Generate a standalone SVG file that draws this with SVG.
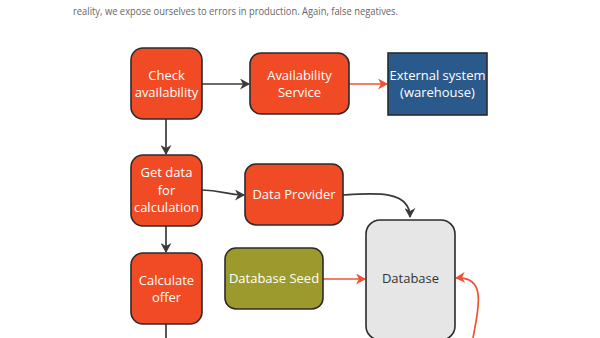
<svg xmlns="http://www.w3.org/2000/svg" width="600" height="338" viewBox="0 0 600 338">
<style>
.n{stroke:#2b2b2b;stroke-width:1.6}
.o{fill:#f04b24}
.t{font-family:"Open Sans","Noto Sans",sans-serif;font-size:13px;text-anchor:middle;fill:#fff}
.c{fill:none;stroke:#3a3a3a;stroke-width:1.7}
.r{fill:none;stroke:#ef5232;stroke-width:1.7}
</style>
<defs>
<marker id="ad" markerWidth="11" markerHeight="11" refX="9" refY="5.5" orient="auto" markerUnits="userSpaceOnUse"><path d="M0,0 L10,5.5 L0,11 L3,5.5 Z" fill="#3a3a3a"/></marker>
<marker id="ar" markerWidth="11" markerHeight="11" refX="9" refY="5.5" orient="auto" markerUnits="userSpaceOnUse"><path d="M0,0 L10,5.5 L0,11 L3,5.5 Z" fill="#ef5232"/></marker>
</defs>
<rect width="600" height="338" fill="#fff"/>
<text x="73" y="15" font-family="'Open Sans','Noto Sans',sans-serif" font-size="10.5" fill="#666" textLength="325" lengthAdjust="spacingAndGlyphs">reality, we expose ourselves to errors in production. Again, false negatives.</text>
<g id="connectors">
<path class="c" d="M202,84 L249,84" marker-end="url(#ad)"/>
<path class="r" d="M349,84 L387,84" marker-end="url(#ar)"/>
<path class="c" d="M166,119 L166,154" marker-end="url(#ad)"/>
<path class="c" d="M166,226 L166,252" marker-end="url(#ad)"/>
<path class="c" d="M166,324 L166,338"/>
<path class="c" d="M202,190 C222,190 226,195 244,195" marker-end="url(#ad)"/>
<path class="c" d="M343,195 C375,193 410,190 410,217" marker-end="url(#ad)"/>
<path class="r" d="M323,279 L365,279" marker-end="url(#ar)"/>
<path class="r" d="M473,338 C478,310 488,276 456,278" marker-end="url(#ar)"/>
</g>
<g id="check">
<rect class="n o" x="131" y="48" width="71" height="71" rx="12"/>
<text class="t" x="166.5" y="80">Check</text>
<text class="t" x="166.5" y="97">availability</text>
</g>
<g id="availability-service">
<rect class="n o" x="250" y="53" width="99" height="61" rx="11"/>
<text class="t" x="299.5" y="80">Availability</text>
<text class="t" x="299.5" y="97">Service</text>
</g>
<g id="external">
<rect class="n" x="388" y="53" width="99" height="62" fill="#2a5a8b"/>
<text class="t" x="437.5" y="80">External system</text>
<text class="t" x="437.5" y="97">(warehouse)</text>
</g>
<g id="get-data">
<rect class="n o" x="131" y="155" width="71" height="71" rx="12"/>
<text class="t" x="166.5" y="177">Get data</text>
<text class="t" x="166.5" y="195">for</text>
<text class="t" x="166.5" y="212">calculation</text>
</g>
<g id="data-provider">
<rect class="n o" x="245" y="164" width="98" height="61" rx="11"/>
<text class="t" x="294" y="199">Data Provider</text>
</g>
<g id="database">
<rect class="n" x="366" y="220" width="89" height="120" rx="14" fill="#e6e6e6"/>
<text class="t" x="410.5" y="283" style="fill:#333">Database</text>
</g>
<g id="database-seed">
<rect class="n" x="225" y="248" width="98" height="61" rx="11" fill="#9c9a2c"/>
<text class="t" x="274" y="283">Database Seed</text>
</g>
<g id="calculate-offer">
<rect class="n o" x="131" y="253" width="71" height="71" rx="12"/>
<text class="t" x="166.5" y="285">Calculate</text>
<text class="t" x="166.5" y="302">offer</text>
</g>
</svg>
